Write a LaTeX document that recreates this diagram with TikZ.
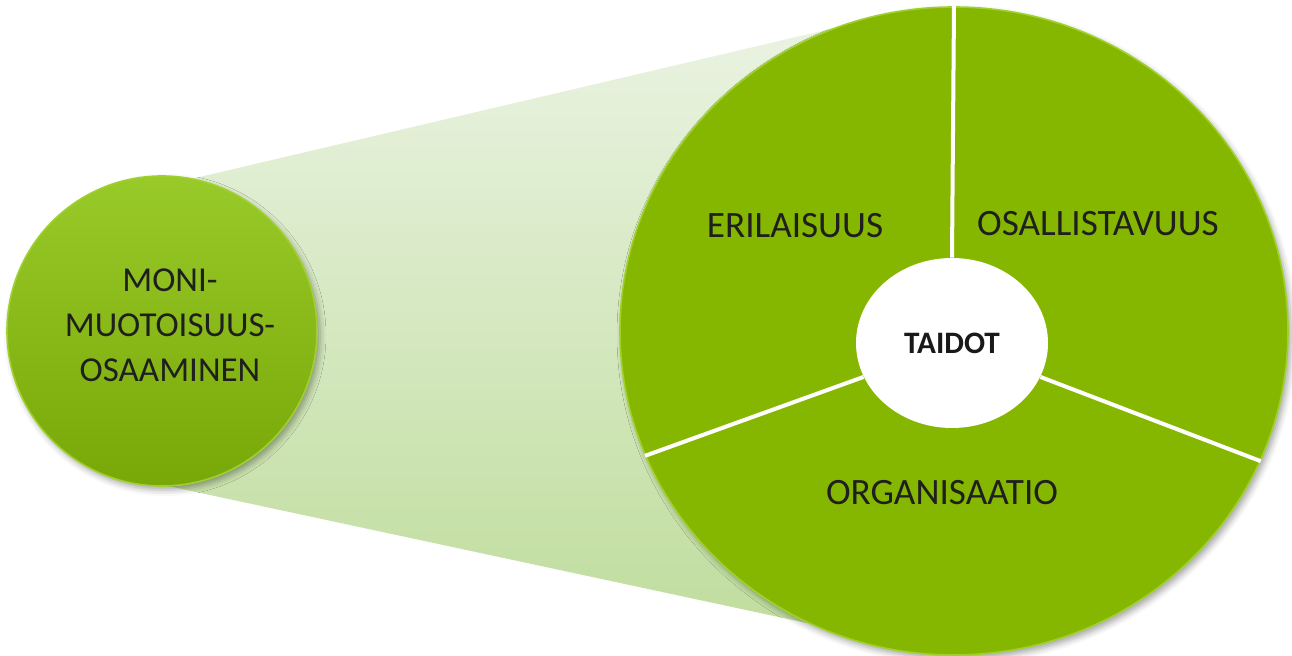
\documentclass[tikz,border=0pt]{standalone}
\usepackage{fontspec}
\setmainfont{Carlito}
\usetikzlibrary{shapes.geometric, shadows.blur}

\definecolor{bigGreen}{RGB}{134,183,0}
\definecolor{smallTop}{RGB}{152,202,42}
\definecolor{smallBot}{RGB}{120,168,8}
\definecolor{coneTop}{RGB}{234,243,226}
\definecolor{coneBot}{RGB}{192,221,158}
\definecolor{rimGreen}{RGB}{160,208,45}

\begin{document}
\begin{tikzpicture}[x=0.5pt, y=-0.5pt,
    sectorText/.style={font=\fontsize{18.6}{22}\selectfont, text=black!88},
    divider/.style={white, line width=2pt},
    softShadow/.style={blur shadow={shadow xshift=1.5pt, shadow yshift=-2pt, shadow blur radius=3pt, shadow opacity=35}}]
    \useasboundingbox (0,0) rectangle (1292,656);

    % Конус между кругами
    \coordinate (coneA) at (140,191);
    \coordinate (coneB) at (860,22);
    \coordinate (coneC) at (830,628);
    \coordinate (coneD) at (140,480);
    \shade[top color=coneTop, bottom color=coneBot] (coneA) -- (coneB) -- (coneC) -- (coneD) -- cycle;

    % Малый круг
    \node[circle, minimum size=155pt, inner sep=0pt, top color=smallTop, bottom color=smallBot,
          draw=rimGreen, line width=0.8pt, softShadow] (moni) at (162,331) {};

    % Большой круг
    \node[ellipse, minimum width=334pt, minimum height=324pt, inner sep=0pt, fill=bigGreen,
          draw=rimGreen, line width=0.8pt, softShadow] (big) at (954,331) {};

    % Центр
    \node[ellipse, minimum width=96pt, minimum height=85pt, inner sep=0pt, fill=white,
          font=\fontsize{15.6}{18}\selectfont\bfseries, text=black!90] (taidot) at (952,343) {TAIDOT};

    % Разделители секторов
    \draw[divider] (taidot.north) -- (big.north);
    \draw[divider] (taidot.201) -- (big.202);
    \draw[divider] (taidot.-21.5) -- (big.-23.5);

    % Подписи
    \node[sectorText, align=center, font=\fontsize{17.5}{22.5}\selectfont] (moniText) at (170,325) {MONI-\\MUOTOISUUS-\\OSAAMINEN};
    \node[sectorText] (erilaisuus) at (795,226) {ERILAISUUS};
    \node[sectorText] (osallistavuus) at (1098,224) {OSALLISTAVUUS};
    \node[sectorText] (organisaatio) at (942,493) {ORGANISAATIO};
\end{tikzpicture}
\end{document}
